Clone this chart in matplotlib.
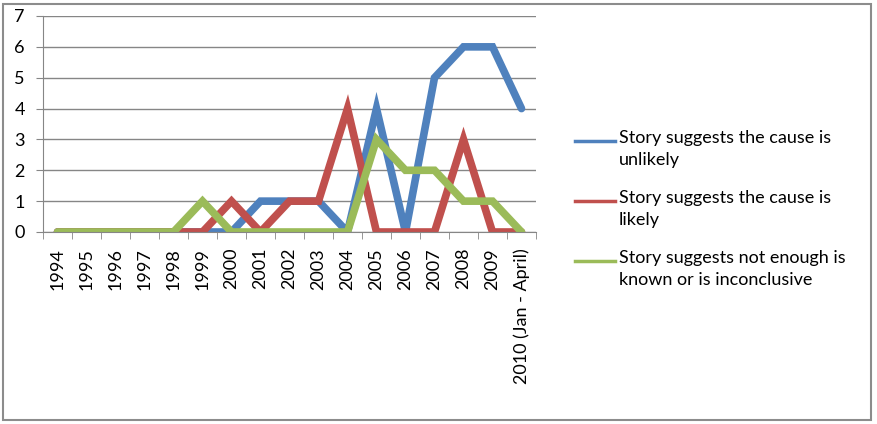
import matplotlib.pyplot as plt
import numpy as np
from matplotlib.patches import Rectangle
from matplotlib.lines import Line2D

# --- data ---
years = ["1994", "1995", "1996", "1997", "1998", "1999", "2000", "2001", "2002",
         "2003", "2004", "2005", "2006", "2007", "2008", "2009", "2010 (Jan - April)"]
unlikely = [0, 0, 0, 0, 0, 0, 0, 1, 1, 1, 0, 4, 0, 5, 6, 6, 4]
likely = [0, 0, 0, 0, 0, 0, 1, 0, 1, 1, 4, 0, 0, 0, 3, 0, 0]
inconclusive = [0, 0, 0, 0, 0, 1, 0, 0, 0, 0, 0, 3, 2, 2, 1, 1, 0]

labels = ["Story suggests the cause is\nunlikely",
          "Story suggests the cause is\nlikely",
          "Story suggests not enough is\nknown or is inconclusive"]
colors = ["#4F81BD", "#C0504D", "#9BBB59"]

plt.rcParams['font.family'] = ['Lato', 'DejaVu Sans']

W, H = 878, 424
fig = plt.figure(figsize=(W / 100, H / 100), dpi=100)
ax = fig.add_axes([43 / W, 1 - 232 / H, (536 - 43) / W, (232 - 16) / H])

x = np.arange(len(years))
for vals, lab, c in zip([unlikely, likely, inconclusive], labels, colors):
    ax.plot(x, vals, color=c, linewidth=5.5, label=lab, solid_joinstyle='miter',
            solid_capstyle='round')

ax.set_xlim(-0.5, len(years) - 0.5)
ax.set_ylim(0, 7)
ax.set_yticks(range(8))
ax.set_xticks(x)
ax.set_xticklabels(years, rotation=90, fontsize=13)
ax.set_xticks(np.arange(-0.5, len(years), 1), minor=True)
ax.tick_params(axis='x', which='major', length=0, pad=11.5)
ax.tick_params(axis='x', which='minor', length=5, color='#868686', direction='out')
ax.tick_params(axis='y', length=5, color='#868686', direction='out', labelsize=13, pad=8)
ax.yaxis.grid(True, color='#868686', linewidth=1)
ax.set_axisbelow(True)
for s in ['top', 'right']:
    ax.spines[s].set_visible(False)
for s in ['left', 'bottom']:
    ax.spines[s].set_color('#868686')

# legend drawn by hand so the handle sits level with the first text line
for i, (lab, c) in enumerate(zip(labels, colors)):
    yl = 141 + 60 * i
    fig.add_artist(Line2D([575 / W, 615 / W], [1 - yl / H, 1 - yl / H],
                          transform=fig.transFigure, color=c, linewidth=2.5))
    fig.text(619 / W, 1 - (yl - 11) / H, lab, fontsize=13, va='top', ha='left',
             linespacing=1.45)

fig.patches.append(Rectangle((3 / W, 1 - 420 / H), 868 / W, 416 / H,
                             transform=fig.transFigure, fill=False,
                             edgecolor='#8c8c8c', linewidth=1.5))

plt.savefig("out.png", dpi=100)
plt.close()
